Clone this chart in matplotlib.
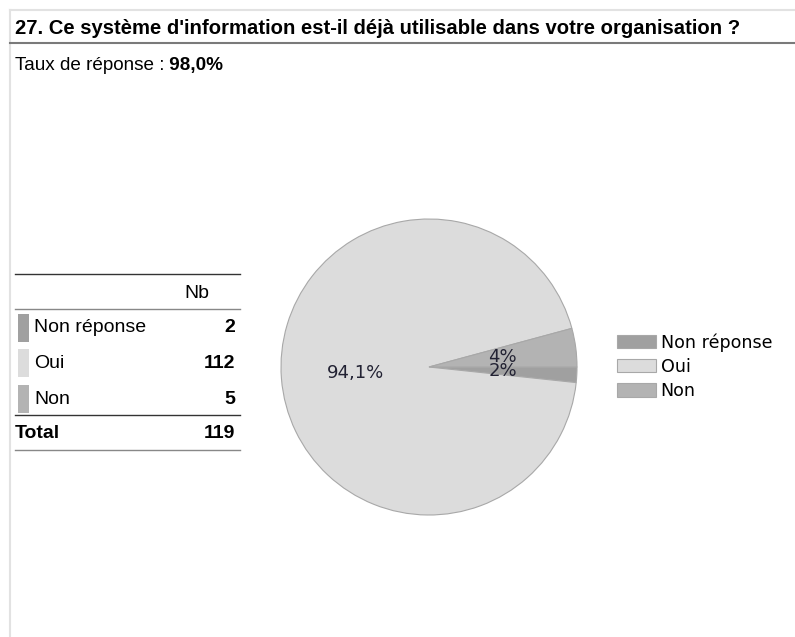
import matplotlib.pyplot as plt
from matplotlib.patches import Rectangle

W, H = 795, 637

# survey answers
categories = ["Non réponse", "Oui", "Non"]
counts = [2, 112, 5]
colors = ["#a0a0a0", "#dcdcdc", "#b3b3b3"]
question = "27. Ce système d'information est-il déjà utilisable dans votre organisation ?"
rate_label = "Taux de réponse :"
rate_value = "98,0%"
count_header = "Nb"
total_label = "Total"


def pct_label(pct):
    # big slices get one decimal, small ones are rounded
    if pct >= 10:
        return f"{pct:.1f}".replace(".", ",") + "%"
    return f"{pct:.0f}%"


fig = plt.figure(figsize=(W / 100, H / 100), dpi=100)

# overlay in pixel coordinates for the header, frame and table
bg = fig.add_axes([0, 0, 1, 1])
bg.set_xlim(0, W)
bg.set_ylim(H, 0)
bg.axis("off")

bg.plot([10, 10], [10, H], color="#e2e2e2", lw=1.5)
bg.plot([10, W], [10, 10], color="#e2e2e2", lw=1.5)
bg.plot([10, W], [43, 43], color="#7a7a7a", lw=1.5)

sans = "Liberation Sans"
bg.text(15, 34, question, fontsize=14.55, fontweight="bold", family=sans, va="baseline")
t = bg.text(15, 70, rate_label, fontsize=13.6, family=sans, va="baseline")
bg.annotate(" " + rate_value, xy=(1, 0), xycoords=t, fontsize=13.6, fontweight="bold",
            family=sans, va="bottom", ha="left")

# count table on the left
fs = 14
row_y = [328, 363, 399]
bg.plot([15, 240], [274, 274], color="#333333", lw=1)
bg.plot([15, 240], [309, 309], color="#888888", lw=1)
bg.plot([15, 240], [415, 415], color="#333333", lw=1)
bg.plot([15, 240], [450, 450], color="#888888", lw=1)
bg.text(209, 293, count_header, fontsize=fs, family=sans, ha="right", va="center")
for y, cat, n, c in zip(row_y, categories, counts, colors):
    bg.add_patch(Rectangle((18, y - 14), 11, 28, color=c, lw=0))
    bg.text(34, y, cat, fontsize=fs, family=sans, va="center")
    bg.text(235, y, str(n), fontsize=fs, family=sans, fontweight="bold",
            ha="right", va="center")
bg.text(15, 434, total_label, fontsize=fs, family=sans, fontweight="bold", va="center")
bg.text(235, 434, str(sum(counts)), fontsize=fs, family=sans, fontweight="bold",
        ha="right", va="center")

# pie chart
cx, cy, r = 429, 367, 148
ax = fig.add_axes([(cx - r) / W, 1 - (cy + r) / H, 2 * r / W, 2 * r / H])
wedges, _, autotexts = ax.pie(counts, colors=colors, startangle=0, counterclock=False,
                              autopct=pct_label, pctdistance=0.5,
                              wedgeprops=dict(edgecolor="#a8a8a8", linewidth=0.8),
                              textprops=dict(fontsize=13, color="#222233",
                                             family="DejaVu Sans"))
ax.set_xlim(-1, 1)
ax.set_ylim(-1, 1)
ax.axis("off")

fig.legend(wedges, categories, loc="upper left",
           bbox_to_anchor=(617 / W, 1 - 333 / H), frameon=False,
           prop=dict(family="DejaVu Sans", size=12.6),
           handlelength=2.2, handleheight=0.8, handletextpad=0.3,
           labelspacing=0.36, borderpad=0, borderaxespad=0)

fig.savefig("out.png", dpi=100)
